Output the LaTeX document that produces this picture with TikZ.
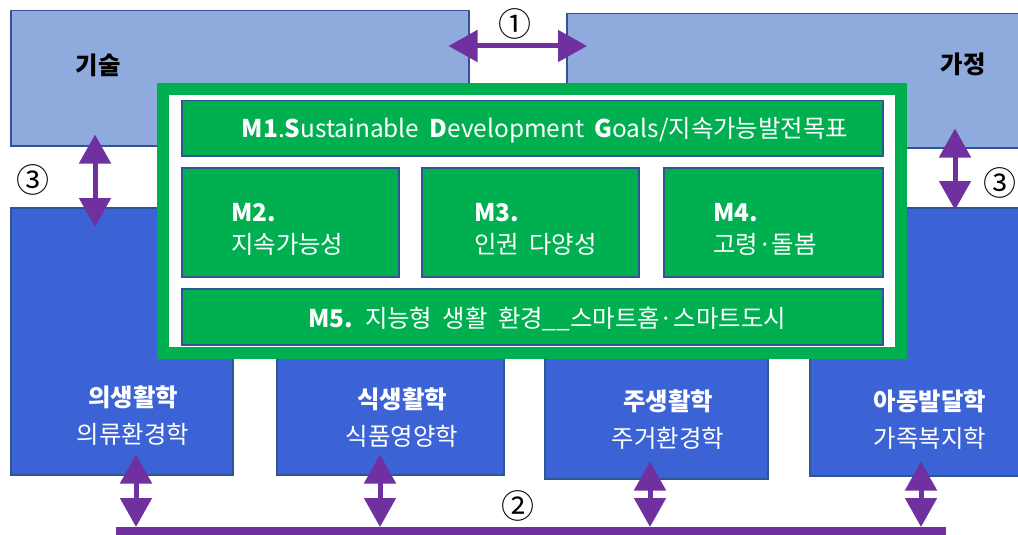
\documentclass[tikz,border=0pt]{standalone}
\usepackage{fontspec}
\setmainfont{Noto Sans CJK KR}
\usetikzlibrary{calc}
\usetikzlibrary{arrows.meta}

\definecolor{areablue}{HTML}{8FAADC}
\definecolor{subjblue}{HTML}{3C63D6}
\definecolor{edgeblue}{HTML}{2F5597}
\definecolor{modgreen}{HTML}{00B050}
\definecolor{linkpurple}{HTML}{7030A0}

\begin{document}
\begin{tikzpicture}[x=1pt,y=-1pt,%
  area/.style={rectangle,
               fill=areablue,
               draw=edgeblue,
               line width=1.5pt,
               inner sep=0pt,
               anchor=north west
  },
  subject/.style={area, fill=subjblue},
  module/.style={area, fill=modgreen},
  txt/.style={font=\fontsize{24.4}{32}\selectfont, align=center, inner sep=0pt},
  wtxt/.style={txt, text=white},
  sub/.style={wtxt, font=\fontsize{24.4}{37}\selectfont},
  num/.style={font=\fontsize{33}{36}\selectfont, inner sep=0pt},
  link/.style={draw=linkpurple, line width=5pt,
               {Triangle[width=31pt,length=29pt]}-{Triangle[width=31pt,length=29pt]}}
]
\useasboundingbox (0,0) rectangle (1018,535);

\node [area, minimum width=458pt, minimum height=135pt] (tech) at (10,10) {};
\node [txt] (techlbl) at (98,65) {\textbf{기술}};

\node [area, minimum width=460pt, minimum height=134pt] (home) at (566,13) {};
\node [txt] (homelbl) at (963,64) {\textbf{가정}};

\node [subject, minimum width=222pt, minimum height=267pt] (clothing) at (10,207) {};
\node [subject, minimum width=227pt, minimum height=144pt] (food) at (276,330) {};
\node [subject, minimum width=223pt, minimum height=148pt] (housing) at (544,330) {};
\node [subject, minimum width=215pt, minimum height=268pt] (family) at (809,207) {};

\node [sub] (clothinglbl) at (133,416) {\textbf{의생활학}\\의류환경학};
\node [sub] (foodlbl) at (402,418) {\textbf{식생활학}\\식품영양학};
\node [sub] (housinglbl) at (668,420) {\textbf{주생활학}\\주거환경학};
\node [sub] (familylbl) at (930,420) {\textbf{아동발달학}\\가족복지학};

% green frame with the modules
\node [rectangle, draw=modgreen, line width=12pt, fill=white, anchor=north west,
       minimum width=738pt, minimum height=264pt] (frame) at (157,83) {};

\node [module, minimum width=701pt, minimum height=55pt] (m1) at (181,100) {};
\node [wtxt] (m1lbl) at (545,130) {\textbf{M1}.\textbf{S}ustainable\hspace{0.2em} \textbf{D}evelopment\hspace{0.2em} \textbf{G}oals/지속가능발전목표};

\node [module, minimum width=217pt, minimum height=109pt] (m2) at (181,167) {};
\node [wtxt, align=left, anchor=west] (m2lbl) at (231,229) {\textbf{M2.}\\지속가능성};

\node [module, minimum width=217pt, minimum height=109pt] (m3) at (421,167) {};
\node [wtxt, align=left, anchor=west] (m3lbl) at (474,229) {\textbf{M3.}\\인권\hspace{0.2em} 다양성};

\node [module, minimum width=219pt, minimum height=109pt] (m4) at (663,167) {};
\node [wtxt, align=left, anchor=west] (m4lbl) at (713,229) {\textbf{M4.}\\고령·돌봄};

\node [module, minimum width=701pt, minimum height=56pt] (m5) at (181,288) {};
\node [wtxt] (m5lbl) at (547,319) {\textbf{M5.}\hspace{0.2em} 지능형\hspace{0.2em} 생활\hspace{0.2em} 환경\_\_스마트홈·스마트도시};

% links
\draw [link] ($(tech.north east)+(-21,36)$) -- ($(home.north west)+(21,33)$);
\node [num] (n1) at (515,24) {①};

\draw [link] ($(tech.south west)+(85,-12)$) -- ($(clothing.north west)+(85,20)$);
\node [num] (n3l) at (33,180) {③};

\draw [link] ($(home.south west)+(389,-20)$) -- ($(family.north west)+(146,3)$);
\node [num] (n3r) at (1000,183) {③};

\coordinate (busL) at (116,531);
\coordinate (busR) at (946,531);
\draw [draw=linkpurple, line width=8pt] (busL) -- (busR);
\node [num] (n2) at (518,506) {②};

\draw [link] ($(busL)+(20,-4)$) -- ($(clothing.south west)+(126,-21)$);
\draw [link] ($(busL)+(264,-4)$) -- ($(food.south west)+(104,-21)$);
\draw [link] ($(busL)+(534,-4)$) -- ($(housing.south west)+(106,-18)$);
\draw [link] ($(busL)+(805,-4)$) -- ($(family.south west)+(112,-15)$);

\end{tikzpicture}
\end{document}
